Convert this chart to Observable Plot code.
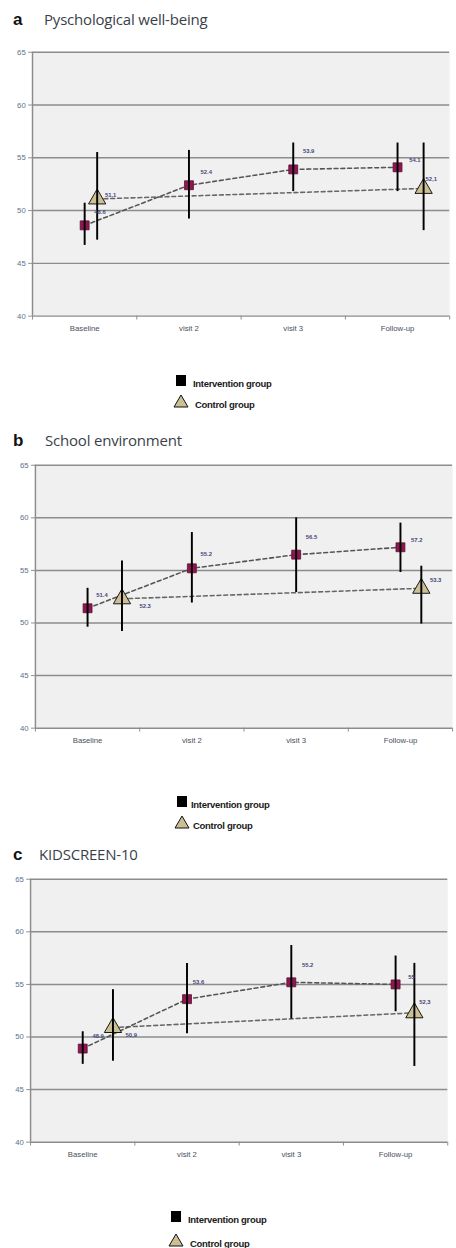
<!DOCTYPE html>
<html><head><meta charset="utf-8">
<script src="https://cdn.jsdelivr.net/npm/d3@7"></script>
<script src="https://cdn.jsdelivr.net/npm/@observablehq/plot@0.6"></script>
<style>
html,body{margin:0;padding:0;background:#fff;width:456px;height:1248px;overflow:hidden;font-family:"Liberation Sans",Arial,sans-serif;}
#root{position:relative;width:456px;height:1248px;overflow:hidden;}
.abs{position:absolute;white-space:nowrap;}
.letter{font-weight:bold;font-size:17px;color:#111;line-height:1;}
.title{font-family:"Open Sans","Liberation Sans",sans-serif;font-size:15px;color:#3a3f4a;line-height:1;letter-spacing:-0.2px;}
.leg{font-size:9.5px;font-weight:bold;color:#1a1a1a;line-height:1;letter-spacing:-0.3px;}
</style></head>
<body><div id="root"></div>
<script>
// ---- Data ----
const categories = ["Baseline", "visit 2", "visit 3", "Follow-up"];
const yTicks = [40, 45, 50, 55, 60, 65];

// a  Psychological well-being
const wellbeingIntervention     = [48.6, 52.4, 53.9, 54.1];
const wellbeingInterventionLow  = [46.7, 49.2, 51.8, 51.8];
const wellbeingInterventionHigh = [50.7, 55.7, 56.4, 56.4];
const wellbeingControlX         = [0.62, 3.75];
const wellbeingControl          = [51.1, 52.1];
const wellbeingControlLow       = [47.2, 48.1];
const wellbeingControlHigh      = [55.5, 56.4];

// b  School environment
const schoolIntervention     = [51.4, 55.2, 56.5, 57.2];
const schoolInterventionLow  = [49.6, 51.9, 52.9, 54.8];
const schoolInterventionHigh = [53.3, 58.6, 60.0, 59.5];
const schoolControlX         = [0.83, 3.70];
const schoolControl          = [52.3, 53.3];
const schoolControlLow       = [49.2, 49.9];
const schoolControlHigh      = [55.9, 55.4];

// c  KIDSCREEN-10
const kidIntervention     = [48.9, 53.6, 55.2, 55.0];
const kidInterventionLow  = [47.4, 50.3, 51.7, 52.4];
const kidInterventionHigh = [50.5, 57.0, 58.7, 57.7];
const kidControlX         = [0.79, 3.68];
const kidControl          = [50.9, 52.3];
const kidControlLow       = [47.7, 47.2];
const kidControlHigh      = [54.5, 57.0];

// ---- Layout / style ----
const panels = [
  {letter:"a", title:"Pyschological well-being", titleY:20, titleX:44, plotTop:52, plotBottom:324, ml:33,
   iv:wellbeingIntervention, ilo:wellbeingInterventionLow, ihi:wellbeingInterventionHigh,
   cx:wellbeingControlX, cv:wellbeingControl, clo:wellbeingControlLow, chi:wellbeingControlHigh, cdec:",",
   ioff:[[10,-14],[12,-14],[10,-19],[12,-7]], coff:[[8,-4],[2,-10]],
   legX:175, legTextX:193, leg1:378, leg2:399},
  {letter:"b", title:"School environment", titleY:441, titleX:45, plotTop:465, plotBottom:736, ml:36,
   iv:schoolIntervention, ilo:schoolInterventionLow, ihi:schoolInterventionHigh,
   cx:schoolControlX, cv:schoolControl, clo:schoolControlLow, chi:schoolControlHigh, cdec:".",
   ioff:[[9,-14],[9,-15],[10,-18],[11,-7]], coff:[[18,8],[9,-8]],
   legX:176, legTextX:191, leg1:799, leg2:820},
  {letter:"c", title:"KIDSCREEN-10", titleY:855, titleX:39, plotTop:879, plotBottom:1150, ml:31,
   iv:kidIntervention, ilo:kidInterventionLow, ihi:kidInterventionHigh,
   cx:kidControlX, cv:kidControl, clo:kidControlLow, chi:kidControlHigh, cdec:",",
   ioff:[[10,-13],[6,-18],[11,-18],[13,-7]], coff:[[13,8],[5,-11]],
   legX:170, legTextX:188, leg1:1214, leg2:1238}
];

const root = document.getElementById("root");
const fmt = (v, dec) => String(+v.toFixed(1)).replace(".", dec);

function el(html, left, top){
  const d = document.createElement("div");
  d.className = "abs";
  d.style.left = left + "px"; d.style.top = top + "px";
  d.innerHTML = html;
  root.appendChild(d);
  return d;
}

for (const cfg of panels) {
  // title
  el(`<span class="letter">${cfg.letter}</span>`, 13, cfg.titleY - 9);
  el(`<span class="title">${cfg.title}</span>`, cfg.titleX, cfg.titleY - 9);

  const W = 470, mt = 8, mb = 26;
  const plotH = cfg.plotBottom - cfg.plotTop;
  const mr = W - (cfg.ml + 430);
  const inter = categories.map((c, i) => ({x: i + 0.5, y: cfg.iv[i], lo: cfg.ilo[i], hi: cfg.ihi[i], label: fmt(cfg.iv[i], "."), off: cfg.ioff[i]}));
  const ctrl = cfg.cv.map((v, i) => ({x: cfg.cx[i], y: v, lo: cfg.clo[i], hi: cfg.chi[i], label: fmt(v, cfg.cdec), off: cfg.coff[i]}));
  const gridC = "#8c8c8c";
  const labelMarks = [...inter, ...ctrl].map(d => Plot.text([d], {x: "x", y: "y", text: "label", dx: d.off[0], dy: d.off[1], textAnchor: "start", fontSize: 6, fontWeight: "bold", fill: "#45457a"}));

  const svg = Plot.plot({
    width: W, height: mt + plotH + mb,
    marginTop: mt, marginBottom: mb, marginLeft: cfg.ml, marginRight: mr,
    x: {domain: [0, 4]},
    y: {domain: [40, 65]},
    style: {background: "transparent", overflow: "visible", fontFamily: "Liberation Sans, Arial, sans-serif"},
    marks: [
      Plot.frame({fill: "#f0f0f0", stroke: "none"}),
      Plot.ruleY(yTicks, {stroke: gridC, strokeWidth: 1.5}),
      Plot.ruleX([0], {stroke: gridC, strokeWidth: 1.5}),
      Plot.axisY({ticks: yTicks, tickSize: 4, tickFormat: () => "", color: gridC, label: null}),
      Plot.axisY({ticks: yTicks, tickSize: 0, tickPadding: 7, fontSize: 8, color: "#60708c", label: null}),
      Plot.axisX({ticks: [0, 1, 2, 3, 4], tickSize: 4, tickFormat: () => "", color: gridC, label: null}),
      Plot.axisX({ticks: [0.5, 1.5, 2.5, 3.5], tickSize: 0, tickPadding: 10, fontSize: 8, color: "#4a4f5a", label: null,
                  tickFormat: d => categories[Math.floor(d)]}),
      Plot.line(ctrl, {x: "x", y: "y", stroke: "#666", strokeWidth: 1.6, strokeDasharray: "4,3"}),
      Plot.line(inter, {x: "x", y: "y", stroke: "#555", strokeWidth: 1.6, strokeDasharray: "4,3"}),
      Plot.dot(inter, {x: "x", y: "y", symbol: "square", r: 5.2, fill: "#8c1850", stroke: "#5a0d33", strokeWidth: 0.8}),
      Plot.dot(ctrl, {x: "x", y: "y", symbol: "triangle", r: 6.6, fill: "#cbbf93", stroke: "#111", strokeWidth: 1}),
      Plot.ruleX(inter, {x: "x", y1: "lo", y2: "hi", stroke: "#000", strokeWidth: 2}),
      Plot.ruleX(ctrl, {x: "x", y1: "lo", y2: "hi", stroke: "#000", strokeWidth: 2}),
      ...labelMarks
    ]
  });
  svg.style.position = "absolute";
  svg.style.left = "0px";
  svg.style.top = (cfg.plotTop - mt) + "px";
  root.appendChild(svg);

  // legend
  el(`<svg width="12" height="13" style="vertical-align:middle"><rect x="1" y="1" width="10" height="11" fill="#000"/></svg>`, cfg.legX, cfg.leg1 - 7);
  el(`<span class="leg">Intervention group</span>`, cfg.legTextX, cfg.leg1 - 5);
  el(`<svg width="16" height="14" style="vertical-align:middle"><polygon points="8,1 15,13 1,13" fill="#cbbf93" stroke="#111" stroke-width="1"/></svg>`, cfg.legX - 2, cfg.leg2 - 8);
  el(`<span class="leg">Control group</span>`, cfg.legTextX + 2, cfg.leg2 - 5);
}
</script></body></html>
